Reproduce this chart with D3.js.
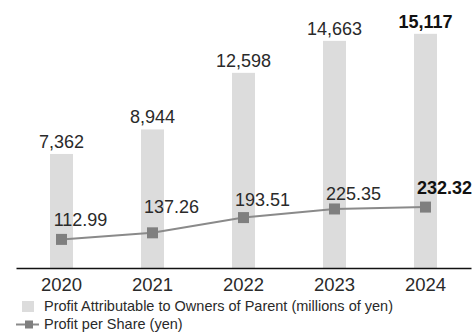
<!DOCTYPE html>
<html>
<head>
<meta charset="utf-8">
<script src="https://cdn.jsdelivr.net/npm/d3@7"></script>
<style>
  body { margin: 0; background: #fff; }
  svg text { font-family: "Liberation Sans", Arial, sans-serif; fill: #2a2a2a; }
</style>
</head>
<body>
<main></main>
<script>
// chart data
const years = ['2020', '2021', '2022', '2023', '2024'];
const profit = [7362, 8944, 12598, 14663, 15117];        // millions of yen
const perShare = [112.99, 137.26, 193.51, 225.35, 232.32]; // yen
const legendLabels = ['Profit Attributable to Owners of Parent (millions of yen)', 'Profit per Share (yen)'];

const size = { width: 475, height: 335, baseline: 268 };

const svg = d3.select('main')
    .append('svg')
    .attr('width', size.width)
    .attr('height', size.height);

const x = d3.scaleBand()
    .domain(years)
    .range([16, 471]);

const yBar = d3.scaleLinear()
    .domain([0, 17300])
    .range([size.baseline, 0]);

const yLine = d3.scaleLinear()
    .domain([0, 997])
    .range([270, 0]);

const cx = d => x(d) + x.bandwidth() / 2;
const barW = 23;
const last = years.length - 1;

// bars
svg.append('g')
    .selectAll('rect')
    .data(profit)
    .enter()
    .append('rect')
    .attr('x', (d, i) => cx(years[i]) - barW / 2)
    .attr('y', d => yBar(d))
    .attr('width', barW)
    .attr('height', d => size.baseline - yBar(d))
    .attr('fill', '#dcdcdc');

// bar labels
svg.append('g')
    .selectAll('text')
    .data(profit)
    .enter()
    .append('text')
    .attr('x', (d, i) => cx(years[i]))
    .attr('y', d => yBar(d) - 6)
    .attr('text-anchor', 'middle')
    .style('font-size', '18px')
    .style('font-weight', (d, i) => i === last ? 'bold' : 'normal')
    .style('fill', (d, i) => i === last ? '#111' : '#2a2a2a')
    .text(d => d3.format(',')(d));

// axis
const axis = svg.append('g')
    .attr('transform', `translate(0,${size.baseline})`)
    .call(d3.axisBottom(x).tickSize(0).tickSizeOuter(0).tickPadding(10));
axis.select('.domain').attr('stroke', '#111').attr('stroke-width', 1.5);
axis.selectAll('text')
    .style('font-size', '18.5px')
    .style('font-family', '"Liberation Sans", Arial, sans-serif')
    .attr('fill', '#2a2a2a');

// line
const line = d3.line()
    .x((d, i) => cx(years[i]))
    .y(d => yLine(d));

svg.append('path')
    .datum(perShare)
    .attr('d', line)
    .attr('fill', 'none')
    .attr('stroke', '#8a8a8a')
    .attr('stroke-width', 2);

svg.append('g')
    .selectAll('rect')
    .data(perShare)
    .enter()
    .append('rect')
    .attr('x', (d, i) => cx(years[i]) - 5.5)
    .attr('y', d => yLine(d) - 5.5)
    .attr('width', 11)
    .attr('height', 11)
    .attr('fill', '#7f7f7f');

// line labels (nudged by hand like the original)
const labelDy = [13, 20, 12, 9, 13];
svg.append('g')
    .selectAll('text')
    .data(perShare)
    .enter()
    .append('text')
    .attr('x', (d, i) => cx(years[i]) + 19)
    .attr('y', (d, i) => yLine(d) - labelDy[i])
    .attr('text-anchor', 'middle')
    .style('font-size', '18px')
    .style('font-weight', (d, i) => i === last ? 'bold' : 'normal')
    .style('fill', (d, i) => i === last ? '#111' : '#2a2a2a')
    .text(d => d3.format('.2f')(d));

// legend
const legend = svg.append('g').attr('id', 'legend');
legend.append('rect')
    .attr('x', 22).attr('y', 301)
    .attr('width', 12).attr('height', 11)
    .attr('fill', '#dcdcdc');
legend.append('text')
    .attr('x', 44).attr('y', 311)
    .style('font-size', '14.5px')
    .text(legendLabels[0]);

legend.append('line')
    .attr('x1', 16).attr('x2', 39)
    .attr('y1', 324.5).attr('y2', 324.5)
    .attr('stroke', '#8a8a8a')
    .attr('stroke-width', 2);
legend.append('rect')
    .attr('x', 25).attr('y', 320.5)
    .attr('width', 8).attr('height', 8)
    .attr('fill', '#7f7f7f');
legend.append('text')
    .attr('x', 44).attr('y', 328.5)
    .style('font-size', '14.5px')
    .text(legendLabels[1]);
</script>
</body>
</html>
